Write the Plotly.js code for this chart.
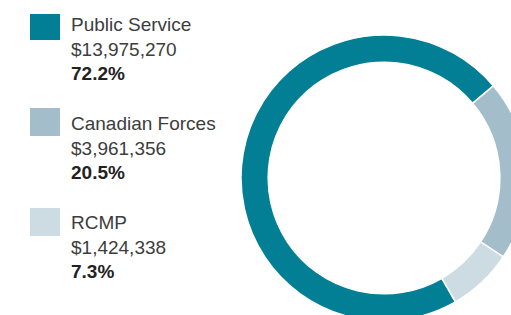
<!DOCTYPE html>
<html>
<head>
<meta charset="utf-8">
<script src="https://cdn.plot.ly/plotly-3.0.1.min.js"></script>
<style>
html,body{margin:0;padding:0;overflow:hidden;background:#fff;width:511px;height:315px;}
#chart{width:540px;height:330px;}
</style>
</head>
<body>
<div id="chart"></div>
<script>
// Data
const categories = ['Public Service', 'Canadian Forces', 'RCMP'];
const amounts = [13975270, 3961356, 1424338];
const amountLabels = ['$13,975,270', '$3,961,356', '$1,424,338'];
const percentLabels = ['72.2%', '20.5%', '7.3%'];
const colors = ['#027F95', '#A3BECA', '#CDDBE3'];

const W = 540, H = 330;
const px = x => x / W;
const py = y => 1 - y / H;

// donut geometry in pixels
const cx = 384, cy = 178, R = 143;

const trace = {
  type: 'pie',
  labels: categories,
  values: amounts,
  sort: false,
  direction: 'clockwise',
  rotation: 150,
  hole: 0.81,
  textinfo: 'none',
  hoverinfo: 'none',
  showlegend: false,
  marker: {colors: colors, line: {color: '#ffffff', width: 1.5}},
  domain: {x: [px(cx - R), px(cx + R)], y: [py(cy + R), py(cy - R)]}
};

const shapes = [];
const annotations = [];
const boxTop = [14, 108, 208];
const boxBottom = [40, 136, 236];
const textTop = [12, 111, 210];
categories.forEach((c, i) => {
  shapes.push({
    type: 'rect', xref: 'paper', yref: 'paper',
    x0: px(30), x1: px(60), y0: py(boxBottom[i]), y1: py(boxTop[i]),
    fillcolor: colors[i], line: {width: 0}
  });
  annotations.push({
    xref: 'paper', yref: 'paper', x: px(69), y: py(textTop[i]),
    xanchor: 'left', yanchor: 'top', align: 'left', showarrow: false,
    text: c + '<br>' + amountLabels[i] + '<br><b><span style="color:#222222">' + percentLabels[i] + '</span></b>',
    font: {family: 'Liberation Sans, Arial, sans-serif', size: 19, color: '#3d3d3d'}
  });
});

const layout = {
  width: W, height: H,
  margin: {l: 0, r: 0, t: 0, b: 0},
  paper_bgcolor: '#ffffff',
  plot_bgcolor: '#ffffff',
  shapes: shapes,
  annotations: annotations
};

Plotly.newPlot('chart', [trace], layout, {staticPlot: true, displayModeBar: false});
</script>
</body>
</html>
